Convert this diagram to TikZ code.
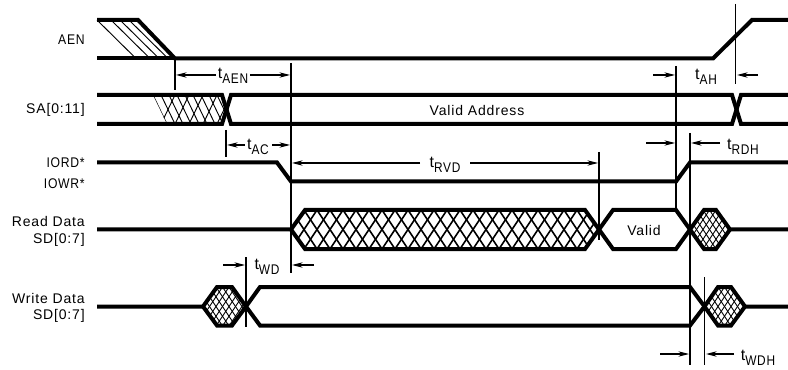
\documentclass[tikz,border=0pt]{standalone}
\usepackage{fontspec}
\setmainfont[LetterSpace=6]{Liberation Sans}
\usetikzlibrary{arrows.meta}
\tikzset{
	sig/.style={line width=3pt, line join=miter, miter limit=2},
	tick/.style={line width=0.8pt},
	hatch/.style={line width=0.7pt},
	dim/.style={line width=0.8pt, -{Stealth[length=8pt,width=4pt]}},
	lbl/.style={anchor=east, inner sep=0pt, font=\fontsize{10.5}{12}\selectfont},
	txt/.style={inner sep=0pt, font=\fontsize{10.5}{12}\selectfont},
	tim/.style={inner sep=0pt, font=\fontsize{12}{12}\selectfont}
}
\def\tname#1{t\raisebox{-3.5pt}{\scalebox{0.85}[1]{\fontsize{10.5}{12}\selectfont #1}}}
\def\capname#1{\scalebox{0.87}[1]{#1}}
\def\hatchhex[#1](#2:#3:#4:#5){
	\begin{scope}
		\clip (#2, #4) -- ({#2+14}, {#4-19.5}) -- ({#3-14}, {#4-19.5}) -- (#3, #4) -- ({#3-14}, {#4+19.5}) -- ({#2+14}, {#4+19.5}) -- cycle;
		\foreach \hx in {#1} {
			\draw[line width=#5] (\hx, {#4-19.5}) -- ({\hx+26}, {#4+19.5});
			\draw[line width=#5] (\hx, {#4+19.5}) -- ({\hx+26}, {#4-19.5});
		}
	\end{scope}
}

\begin{document}
\begin{tikzpicture}[x=0.75pt, y=-0.75pt]
		\useasboundingbox (0, 0) rectangle (788, 370);
		%%%%% HATCHING %%%%%
		
		\foreach \hx in {97, 111, 120, 129} {
			\draw[hatch] (\hx, 20) -- ({\hx+39}, 58.5);
		}
		\begin{scope}
			\clip (153, 95) -- (222, 95) -- (226.5, 109.5) -- (222, 124) -- (167, 124) -- cycle;
			\foreach \hx in {153, 161, ..., 225} {
				\draw[hatch] (\hx, 95) -- ({\hx+14}, 124);
			}
			\foreach \hx in {161, 175, ..., 231} {
				\draw[hatch] (\hx, 124) -- ({\hx+14}, 95);
			}
		\end{scope}
		\hatchhex[278, 291, ..., 590](291:599:229.5:1.2pt)
		\hatchhex[664, 670.5, ..., 730](690:730:229.5:0.7pt)
		\hatchhex[177, 183.5, ..., 246](203:246:306.5:0.7pt)
		\hatchhex[679, 685.5, ..., 745](704.5:745:306.5:0.7pt)
		
		%%%%% SIGNALS %%%%%
		
		\draw[sig] (97, 20) -- (138, 20) -- (175, 58.5) -- (713, 58.5) -- (752, 20) -- (788, 20);
		\draw[sig] (97, 58.5) -- (175, 58.5);
		
		\draw[sig] (97, 95) -- (222, 95) -- (231, 124) -- (732, 124) -- (741, 95) -- (788, 95);
		\draw[sig] (97, 124) -- (222, 124) -- (231, 95) -- (732, 95) -- (741, 124) -- (788, 124);
		
		\draw[sig] (97, 162.5) -- (277, 162.5) -- (291, 181.5) -- (676, 181.5) -- (690, 162.5) -- (788, 162.5);
		
		\draw[sig] (97, 229.5) -- (291, 229.5) -- (305, 210) -- (585, 210) -- (599, 229.5) -- (613, 249) -- (676, 249) -- (690, 229.5) -- (704, 210) -- (716, 210) -- (730, 229.5) -- (788, 229.5);
		\draw[sig] (291, 229.5) -- (305, 249) -- (585, 249) -- (599, 229.5) -- (613, 210) -- (676, 210) -- (690, 229.5) -- (704, 249) -- (716, 249) -- (730, 229.5);
		
		\draw[sig] (97, 306.5) -- (203, 306.5) -- (217, 287) -- (232, 287) -- (246, 306.5) -- (260, 287) -- (690, 287) -- (704.5, 306.5) -- (718, 325.5) -- (731, 325.5) -- (745, 306.5) -- (788, 306.5);
		\draw[sig] (203, 306.5) -- (217, 325.5) -- (232, 325.5) -- (246, 306.5) -- (260, 325.5) -- (690, 325.5) -- (704.5, 306.5) -- (718, 287) -- (731, 287) -- (745, 306.5);
		
		%%%%% TICKS %%%%%
		
		\draw[tick] (175, 58) -- (175, 90);
		\draw[tick] (226, 130) -- (226, 157);
		\draw[tick] (291, 63) -- (291, 273);
		\draw[tick] (246, 257) -- (246, 327);
		\draw[tick] (599, 152) -- (599, 240);
		\draw[tick] (676, 66) -- (676, 208);
		\draw[tick] (690, 133) -- (690, 365);
		\draw[tick] (704.5, 277) -- (704.5, 365);
		\draw[tick] (735.5, 4) -- (735.5, 84);
		
		%%%%% TIMES %%%%%
		
		\node[tim] (taen) at (233, 76) {\tname{AEN}};
		\draw[dim] (216, 75) -- (176, 75);
		\draw[dim] (250, 75) -- (290, 75);
		
		\node[tim] (tac) at (258, 147) {\tname{AC}};
		\draw[dim] (245, 145) -- (227, 145);
		\draw[dim] (272, 145) -- (290, 145);
		
		\node[tim] (trvd) at (445, 165) {\tname{RVD}};
		\draw[dim] (420, 163) -- (292, 163);
		\draw[dim] (470, 163) -- (598, 163);
		
		\node[tim] (tah) at (706, 77) {\tname{AH}};
		\draw[dim] (653, 75) -- (675, 75);
		\draw[dim] (758, 75) -- (737, 75);
		
		\node[tim] (trdh) at (743, 147) {\tname{RDH}};
		\draw[dim] (646, 143) -- (675, 143);
		\draw[dim] (720, 143) -- (691, 143);
		
		\node[tim] (twd) at (267, 267) {\tname{WD}};
		\draw[dim] (223, 265) -- (245, 265);
		\draw[dim] (314, 265) -- (292, 265);
		
		\node[tim] (twdh) at (758, 358) {\tname{WDH}};
		\draw[dim] (660, 354) -- (689, 354);
		\draw[dim] (734, 354) -- (706, 354);
		
		%%%%% LABELS %%%%%
		
		\node[lbl] (aen) at (85, 40) {\capname{AEN}};
		\node[lbl] (sa) at (85, 110) {SA[0:11]};
		\node[lbl] (iord) at (85, 163) {\capname{IORD*}};
		\node[lbl] (iowr) at (85, 184) {\capname{IOWR*}};
		\node[lbl] (rdata) at (85, 221) {Read Data};
		\node[lbl] (rsd) at (85, 240) {SD[0:7]};
		\node[lbl] (wdata) at (85, 298) {Write Data};
		\node[lbl] (wsd) at (85, 316) {SD[0:7]};
		\node[txt] (vaddr) at (477, 110.5) {Valid Address};
		\node[txt] (vdata) at (644, 230) {Valid};
		
		%%%%% END %%%%%
	\end{tikzpicture}
\end{document}
